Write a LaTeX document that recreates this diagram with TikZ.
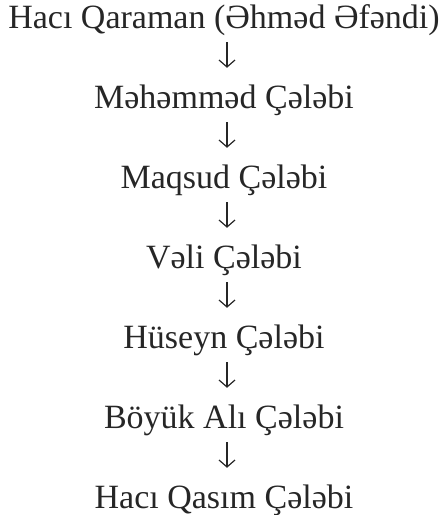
\documentclass[tikz,border=0pt]{standalone}
\usepackage{fontspec}
\setmainfont{Liberation Serif}
\usetikzlibrary{arrows.meta}
\begin{document}
\begin{tikzpicture}[x=1pt,y=1pt,
  person/.style={anchor=base,inner sep=0pt,text height=22pt,text depth=7pt,
    font=\fontsize{34}{40}\selectfont,text=black!85},
  arr/.style={draw=black!85,line width=1.2pt,-{Straight Barb[length=7pt,width=16pt]},
    shorten <=7pt,shorten >=18pt}]
\useasboundingbox (0,0) rectangle (446,-515);
\node[person] (n1) at (224,-28) {Hacı Qaraman (Əhməd Əfəndi)};
\node[person] (n2) at (224,-108) {Məhəmməd Çələbi};
\node[person] (n3) at (224,-188) {Maqsud Çələbi};
\node[person] (n4) at (224,-268) {Vəli Çələbi};
\node[person] (n5) at (224,-348) {Hüseyn Çələbi};
\node[person] (n6) at (224,-428) {Böyük Alı Çələbi};
\node[person] (n7) at (224,-508) {Hacı Qasım Çələbi};
\foreach \a/\b in {n1/n2,n2/n3,n3/n4,n4/n5,n5/n6,n6/n7}
  \draw[arr] ([xshift=3pt]\a.south) -- ([xshift=3pt]\b.north);
\end{tikzpicture}
\end{document}
